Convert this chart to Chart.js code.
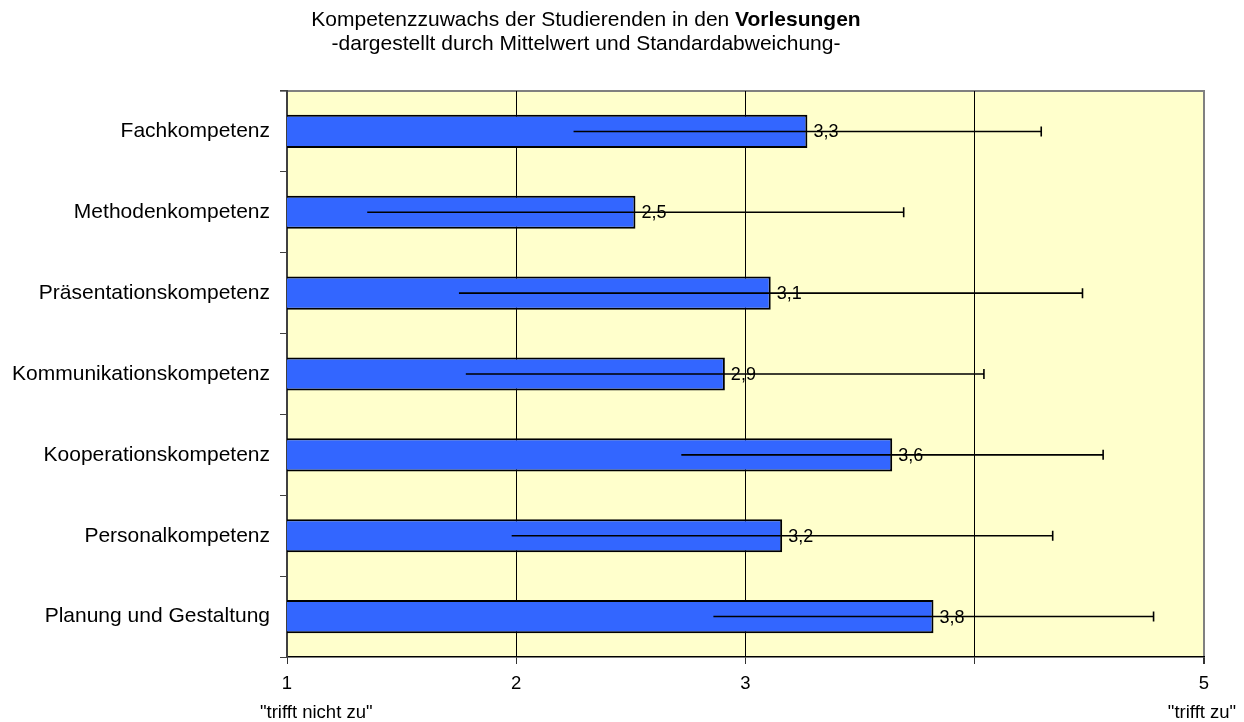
<!DOCTYPE html>
<html>
<head>
<meta charset="utf-8">
<script src="https://cdn.jsdelivr.net/npm/chart.js@4"></script>
<style>
    html, body { margin: 0; padding: 0; background: #ffffff; }
    #chart_box { width: 1244px; height: 722px; position: relative; }
</style>
</head>
<body>
<div id="chart_box"><canvas id="kompetenz_chart"></canvas></div>
<script>
const categories = [
    "Fachkompetenz",
    "Methodenkompetenz",
    "Präsentationskompetenz",
    "Kommunikationskompetenz",
    "Kooperationskompetenz",
    "Personalkompetenz",
    "Planung und Gestaltung"
];
const means = [3.27, 2.52, 3.11, 2.91, 3.64, 3.16, 3.82];
const std_devs = [1.02, 1.17, 1.36, 1.13, 0.92, 1.18, 0.96];
const x_ticks = [1, 2, 3, 4, 5];
const x_tick_labels = ["1", "2", "3", "", "5"];
const title_lines = ["Kompetenzzuwachs der Studierenden in den ", "Vorlesungen", "-dargestellt durch Mittelwert und Standardabweichung-"];
const scale_ends = ['"trifft nicht zu"', '"trifft zu"'];

const font_family = "'Liberation Sans', Arial, sans-serif";

// background + top/right frame of the plot area
const plot_frame = {
    id: "plot_frame",
    beforeDraw(chart) {
        const { ctx, chartArea: a } = chart;
        ctx.save();
        ctx.fillStyle = "#ffffcc";
        ctx.fillRect(a.left, a.top, a.right - a.left, a.bottom - a.top);
        ctx.strokeStyle = "#808080";
        ctx.lineWidth = 2;
        ctx.beginPath();
        ctx.moveTo(a.left - 7, a.top);
        ctx.lineTo(a.right, a.top);
        ctx.lineTo(a.right, a.bottom);
        ctx.stroke();
        ctx.restore();
    }
};

// error bars (only right cap) and value labels
const error_bars = {
    id: "error_bars",
    afterDatasetsDraw(chart) {
        const { ctx } = chart;
        const x = chart.scales.x;
        const bars = chart.getDatasetMeta(0).data;
        ctx.save();
        bars.forEach((bar, i) => {
            const lo = x.getPixelForValue(means[i] - std_devs[i]);
            const hi = x.getPixelForValue(means[i] + std_devs[i]);
            ctx.strokeStyle = "#000";
            ctx.lineWidth = 1.6;
            ctx.beginPath();
            ctx.moveTo(lo, bar.y);
            ctx.lineTo(hi, bar.y);
            ctx.moveTo(hi, bar.y - 5);
            ctx.lineTo(hi, bar.y + 5);
            ctx.stroke();

            ctx.fillStyle = "#000";
            ctx.font = `18px ${font_family}`;
            ctx.textAlign = "left";
            ctx.textBaseline = "middle";
            ctx.fillText(means[i].toFixed(1).replace(".", ","), bar.x + 6, bar.y + 1);
        });
        ctx.restore();
    }
};

// title with bold word, and the end labels below the x axis
const texts = {
    id: "texts",
    afterDraw(chart) {
        const { ctx } = chart;
        const x = chart.scales.x;
        ctx.save();
        ctx.fillStyle = "#000";
        ctx.textBaseline = "middle";

        const normal = `21px ${font_family}`;
        const bold = `bold 21px ${font_family}`;
        ctx.font = normal;
        const w1 = ctx.measureText(title_lines[0]).width;
        ctx.font = bold;
        const w2 = ctx.measureText(title_lines[1]).width;
        const cx = 586;
        let start = cx - (w1 + w2) / 2;
        ctx.textAlign = "left";
        ctx.font = normal;
        ctx.fillText(title_lines[0], start, 20);
        ctx.font = bold;
        ctx.fillText(title_lines[1], start + w1, 20);
        ctx.font = normal;
        ctx.textAlign = "center";
        ctx.fillText(title_lines[2], cx, 44);

        ctx.font = `18.5px ${font_family}`;
        ctx.textAlign = "left";
        ctx.fillText(scale_ends[0], x.getPixelForValue(1) - 27, 713);
        ctx.textAlign = "center";
        ctx.fillText(scale_ends[1], x.getPixelForValue(5) - 2, 713);
        ctx.restore();
    }
};

const ctx = document.getElementById("kompetenz_chart");
const chart = new Chart(ctx, {
    type: "bar",
    data: {
        labels: categories,
        datasets: [{
            data: means,
            backgroundColor: "#3366ff",
            borderColor: "#000",
            borderWidth: 2,
            borderSkipped: false,
            barPercentage: 0.41,
            categoryPercentage: 1
        }]
    },
    options: {
        indexAxis: "y",
        responsive: true,
        maintainAspectRatio: false,
        animation: false,
        layout: { padding: { top: 91, right: 40, left: 0, bottom: 0 } },
        plugins: {
            legend: { display: false },
            tooltip: { enabled: false }
        },
        scales: {
            x: {
                min: 1,
                max: 5,
                afterBuildTicks: (scale) => { scale.ticks = x_ticks.map(v => ({ value: v })); },
                afterFit: (scale) => { scale.height = 65; },
                ticks: {
                    callback: (v) => x_tick_labels[x_ticks.indexOf(v)],
                    color: "#000",
                    font: { family: font_family, size: 18.5 },
                    padding: 9,
                    maxRotation: 0
                },
                grid: {
                    color: (c) => c.tick && c.tick.value === 5 ? "#808080" : "#000",
                    lineWidth: (c) => c.tick && c.tick.value === 5 ? 2 : 1,
                    tickColor: "#333",
                    tickLength: 7
                },
                border: { color: "#000", width: 1.5 }
            },
            y: {
                afterFit: (scale) => { scale.width = 287; },
                ticks: {
                    color: "#000",
                    font: { family: font_family, size: 21 },
                    padding: 10
                },
                grid: {
                    offset: true,
                    drawOnChartArea: false,
                    tickColor: "#404040",
                    tickLength: 7
                },
                border: { color: "#404040", width: 2 }
            }
        }
    },
    plugins: [plot_frame, error_bars, texts]
});
</script>
</body>
</html>
